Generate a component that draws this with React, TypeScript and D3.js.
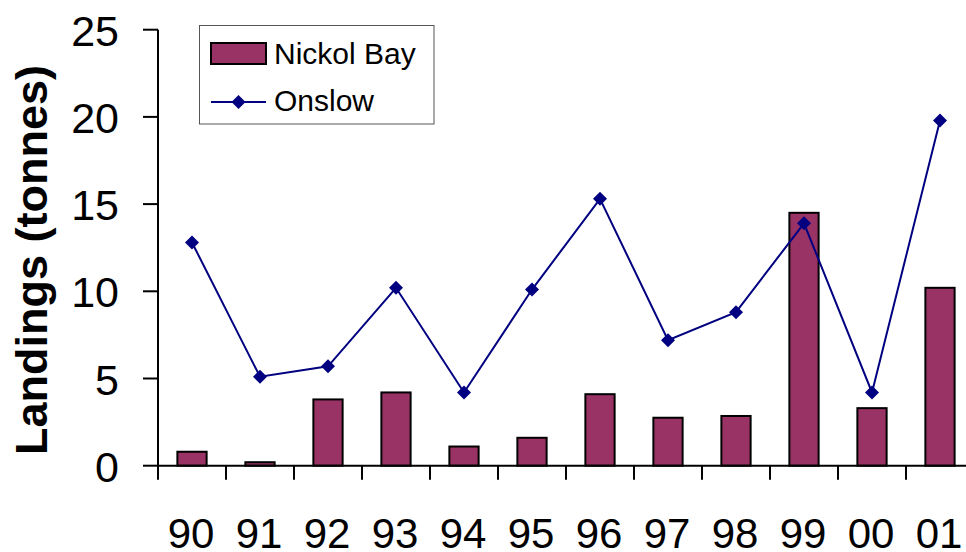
import React from "react";
import * as d3 from "d3";

// Landings per year (tonnes)
const years = ["90", "91", "92", "93", "94", "95", "96", "97", "98", "99", "00", "01"];
const nickolBay = [0.8, 0.2, 3.8, 4.2, 1.1, 1.6, 4.1, 2.75, 2.85, 14.5, 3.3, 10.2];
const onslow = [12.8, 5.1, 5.7, 10.2, 4.2, 10.1, 15.3, 7.2, 8.8, 13.9, 4.2, 19.8];
const yTicks = [0, 5, 10, 15, 20, 25];

const W = 966;
const H = 552;
const left = 158;
const top = 29.7;
const bottom = 465.7;
const step = 68;

const BAR_FILL = "#993366";
const LINE_COLOR = "#000080";
const FONT = "Arial, 'Liberation Sans', sans-serif";

export default function App() {
  const x = d3
    .scaleBand<string>()
    .domain(years)
    .range([left, left + step * years.length])
    .padding(0);
  const y = d3.scaleLinear().domain([0, 25]).range([bottom, top]);
  const barW = x.bandwidth() * 0.43;
  const cx = (d: string) => (x(d) as number) + x.bandwidth() / 2;

  const line = d3
    .line<number>()
    .x((_, i) => cx(years[i]))
    .y((v) => y(v));

  const diamond = (px: number, py: number, r = 7) =>
    `M${px},${py - r}L${px + r},${py}L${px},${py + r}L${px - r},${py}Z`;

  return (
    <svg
      width={W}
      height={H}
      style={{ position: "absolute", left: 0, top: 0, background: "#fff" }}
      fontFamily={FONT}
    >
      {/* bars */}
      {nickolBay.map((v, i) => (
        <rect
          key={"b" + i}
          x={cx(years[i]) - barW / 2}
          y={y(v)}
          width={barW}
          height={y(0) - y(v)}
          fill={BAR_FILL}
          stroke="#000"
          strokeWidth={2}
        />
      ))}

      {/* y axis */}
      <line x1={left} x2={left} y1={top} y2={bottom} stroke="#000" strokeWidth={2} />
      {yTicks.map((t) => (
        <g key={"y" + t}>
          <line x1={left - 15} x2={left} y1={y(t)} y2={y(t)} stroke="#000" strokeWidth={2} />
          <text x={119} y={y(t) + 16} textAnchor="end" fontSize={43} fill="#000">
            {t}
          </text>
        </g>
      ))}

      {/* x axis */}
      <line x1={left} x2={W} y1={bottom} y2={bottom} stroke="#000" strokeWidth={2} />
      {years.map((d) => (
        <g key={"x" + d}>
          <line x1={x(d) as number} x2={x(d) as number} y1={bottom} y2={bottom + 14} stroke="#000" strokeWidth={2} />
          <text x={cx(d) - 1} y={548} textAnchor="middle" fontSize={42} fill="#000">
            {d}
          </text>
        </g>
      ))}

      {/* Onslow line */}
      <path d={line(onslow) || ""} fill="none" stroke={LINE_COLOR} strokeWidth={2} />
      {onslow.map((v, i) => (
        <path key={"d" + i} d={diamond(cx(years[i]), y(v))} fill={LINE_COLOR} />
      ))}

      {/* y axis title */}
      <text
        transform={`translate(47,260) rotate(-90)`}
        textAnchor="middle"
        fontSize={45}
        fontWeight="bold"
        fill="#000"
      >
        Landings (tonnes)
      </text>

      {/* legend */}
      <rect x={199.5} y={25.5} width={234.5} height={98.5} fill="#fff" stroke="#555" strokeWidth={1} />
      <rect x={211} y={43} width={55} height={21} fill={BAR_FILL} stroke="#000" strokeWidth={2} />
      <text x={274} y={63.5} fontSize={30} fill="#000">
        Nickol Bay
      </text>
      <line x1={211} x2={266} y1={102} y2={102} stroke={LINE_COLOR} strokeWidth={2} />
      <path d={diamond(238.5, 102)} fill={LINE_COLOR} />
      <text x={274} y={110.5} fontSize={30} fill="#000">
        Onslow
      </text>
    </svg>
  );
}
